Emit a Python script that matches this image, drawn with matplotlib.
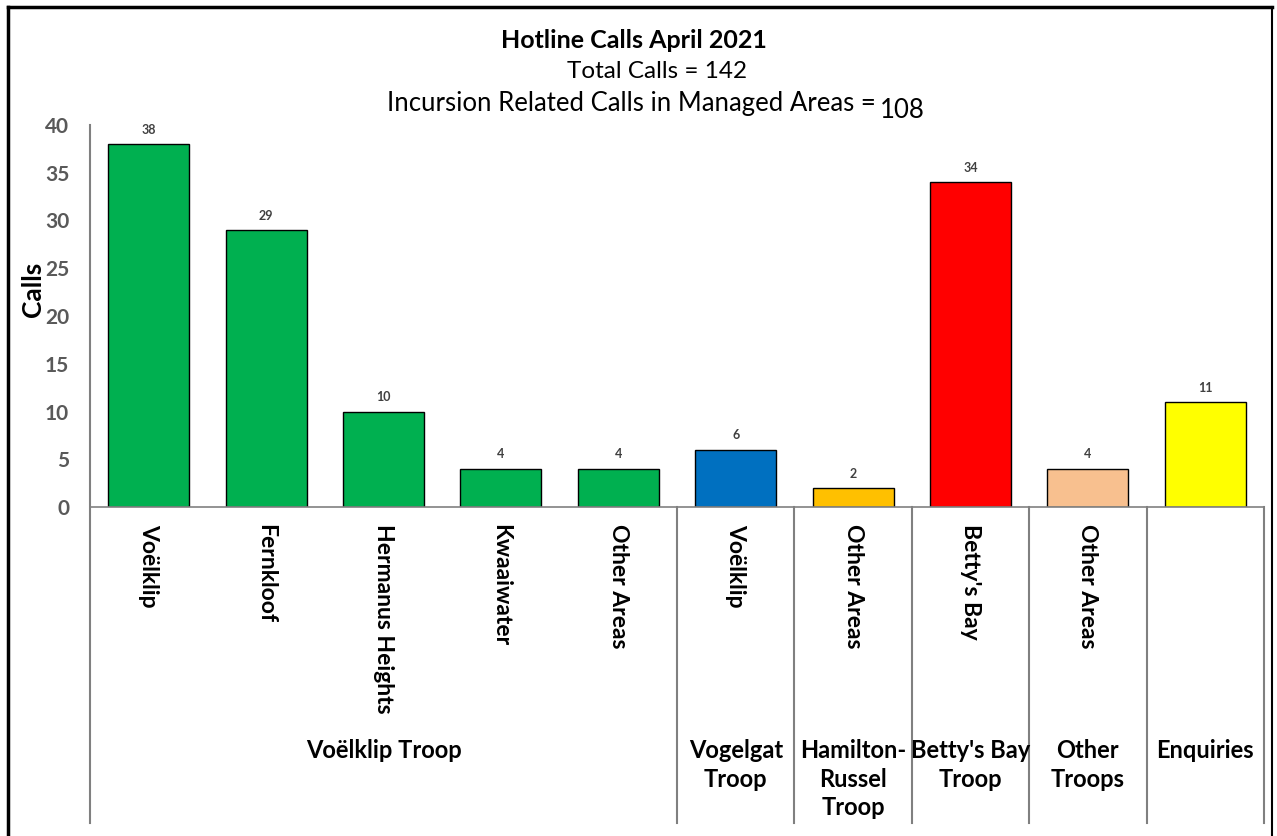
import matplotlib.pyplot as plt
from matplotlib.lines import Line2D
from matplotlib.transforms import blended_transform_factory

plt.rcParams['font.family'] = ['Lato', 'DejaVu Sans']

# hotline calls per area, grouped by troop
areas = ["Voëlklip", "Fernkloof", "Hermanus Heights", "Kwaaiwater", "Other Areas",
         "Voëlklip", "Other Areas", "Betty's Bay", "Other Areas", ""]
calls = [38, 29, 10, 4, 4, 6, 2, 34, 4, 11]
colors = ["#00B050", "#00B050", "#00B050", "#00B050", "#00B050",
          "#0070C0", "#FFC000", "#FF0000", "#F8C08F", "#FFFF00"]
groups = ["Voëlklip Troop", "Vogelgat\nTroop", "Hamilton-\nRussel\nTroop",
          "Betty's Bay\nTroop", "Other\nTroops", "Enquiries"]
group_sizes = [5, 1, 1, 1, 1, 1]

total_calls = 142
incursion_calls = 108

W, H = 1277, 836
fig = plt.figure(figsize=(W / 100, H / 100), dpi=100)
ax = fig.add_axes([90 / W, 329 / H, 1174 / W, 382 / H])

x = range(len(calls))
ax.bar(x, calls, width=0.69, color=colors, edgecolor="black", linewidth=1.0, zorder=2)
for i, v in enumerate(calls):
    ax.annotate(str(v), (i, v), xytext=(0, 6), textcoords="offset points",
                ha="center", va="bottom", fontsize=9, fontweight="bold", color="#404040")

ax.set_xlim(-0.5, len(calls) - 0.5)
ax.set_ylim(0, 40)
ax.set_yticks(range(0, 41, 5))
ax.tick_params(axis="y", length=0, pad=15, labelsize=15, labelcolor="#595959")
for lbl in ax.get_yticklabels():
    lbl.set_fontweight("bold")
ax.set_xticks([])

for s in ["top", "right", "left"]:
    ax.spines[s].set_visible(False)
ax.spines["bottom"].set_color("#808080")
ax.spines["bottom"].set_linewidth(1.2)

ax.set_ylabel("Calls", fontsize=19, fontweight="bold")
ax.yaxis.set_label_coords(-0.038, 0.57)

trans = blended_transform_factory(ax.transData, ax.transAxes)
bottom = -0.827

# left axis line runs down through the category area
ax.plot([-0.5, -0.5], [1.0, bottom], transform=trans, color="#808080",
        lw=1.5, clip_on=False, zorder=3)

# area labels
for i, name in enumerate(areas):
    ax.text(i, -0.045, name, transform=trans, rotation=270, ha="center", va="top",
            fontsize=16.5, fontweight="bold")

# group separators and labels
start = 0
for name, n in zip(groups, group_sizes):
    end = start + n
    ax.plot([end - 0.5, end - 0.5], [0, bottom], transform=trans, color="#808080",
            lw=1.5, clip_on=False)
    ax.text((start + end - 1) / 2, -0.607, name, transform=trans, ha="center", va="top",
            fontsize=17, fontweight="bold", linespacing=1.3)
    start = end

fig.text(634 / W, 1 - 40 / H, "Hotline Calls April 2021", ha="center", va="center",
         fontsize=18, fontweight="bold")
fig.text(657 / W, 1 - 72 / H, f"Total Calls = {total_calls}", ha="center", va="center",
         fontsize=17.5)
fig.text(876 / W, 1 - 104 / H, "Incursion Related Calls in Managed Areas =", ha="right",
         va="center", fontsize=18.5)
fig.text(880 / W, 1 - 110 / H, f"{incursion_calls}", ha="left", va="center", fontsize=18.5)

# outer frame
fig.add_artist(Line2D([8 / W, 8 / W], [0, 1 - 7 / H], color="black", lw=2.5))
fig.add_artist(Line2D([8 / W, 1272 / W], [1 - 7 / H, 1 - 7 / H], color="black", lw=2.5))
fig.add_artist(Line2D([1272 / W, 1272 / W], [0, 1 - 7 / H], color="black", lw=1.5))

fig.savefig("out.png", dpi=100)
